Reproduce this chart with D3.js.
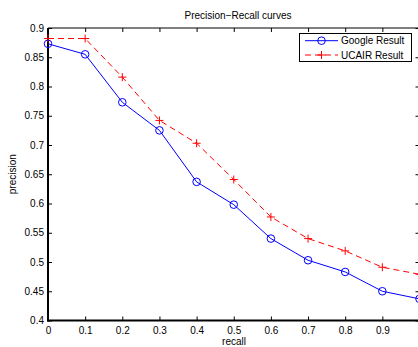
<!DOCTYPE html>
<html>
<head>
<meta charset="utf-8">
<script src="https://cdn.jsdelivr.net/npm/d3@7"></script>
<style>
html,body{margin:0;padding:0;background:#fff;overflow:hidden;}
svg{display:block;}
text{font-family:"Liberation Sans",Arial,Helvetica,sans-serif;}
</style>
</head>
<body>
<script>
const recall = [0,0.1,0.2,0.3,0.4,0.5,0.6,0.7,0.8,0.9,1.0];
const google = [0.873,0.855,0.773,0.725,0.637,0.598,0.540,0.503,0.483,0.450,0.437];
const ucair  = [0.882,0.882,0.816,0.742,0.703,0.641,0.577,0.540,0.519,0.491,0.479];
const xTicks = [0,0.1,0.2,0.3,0.4,0.5,0.6,0.7,0.8,0.9,1];
const yTicks = [0.4,0.45,0.5,0.55,0.6,0.65,0.7,0.75,0.8,0.85,0.9];
const seriesNames = ["Google Result","UCAIR Result"];
const title = "Precision\u2212Recall curves";
const xLabel = "recall";
const yLabel = "precision";

const W = 440, H = 347;
const pL = 48, pR = 419.5, pT = 28, pB = 320.5;
const svg = d3.select("body").append("svg").attr("width", W).attr("height", H);

const x = d3.scaleLinear().domain([0,1]).range([pL,pR]);
const y = d3.scaleLinear().domain([0.4,0.9]).range([pB,pT]);

const gx = svg.append("g").attr("transform",`translate(0,${pB})`)
  .call(d3.axisBottom(x).tickValues(xTicks).tickSizeInner(-4).tickSizeOuter(0).tickPadding(6).tickFormat(d=>String(d)));
const gxt = svg.append("g").attr("transform",`translate(0,${pT})`)
  .call(d3.axisTop(x).tickValues(xTicks).tickSizeInner(-4).tickSizeOuter(0).tickFormat(""));
const gy = svg.append("g").attr("transform",`translate(${pL},0)`)
  .call(d3.axisLeft(y).tickValues(yTicks).tickSizeInner(-4).tickSizeOuter(0).tickPadding(4).tickFormat(d=>String(+d.toFixed(2))));
const gyr = svg.append("g").attr("transform",`translate(${pR},0)`)
  .call(d3.axisRight(y).tickValues(yTicks).tickSizeInner(-4).tickSizeOuter(0).tickFormat(""));
[gx,gxt,gy,gyr].forEach(g=>{
  g.select(".domain").remove();
  g.selectAll(".tick line").attr("stroke","#000").attr("stroke-width",1);
  g.selectAll("text").attr("font-size",10).attr("fill","#000").attr("font-family","Liberation Sans, Arial, sans-serif");
});
svg.append("line").attr("x1",pL).attr("x2",pR).attr("y1",pT).attr("y2",pT).attr("stroke","#000").attr("stroke-width",1);
svg.append("line").attr("x1",pR).attr("x2",pR).attr("y1",pT).attr("y2",pB).attr("stroke","#000").attr("stroke-width",1);
svg.append("line").attr("x1",pL).attr("x2",pL).attr("y1",pT).attr("y2",pB+1).attr("stroke","#000").attr("stroke-width",2);
svg.append("line").attr("x1",pL-1).attr("x2",pR).attr("y1",pB).attr("y2",pB).attr("stroke","#000").attr("stroke-width",2);

const gData = recall.map((r,i)=>({x:r,y:google[i]}));
const uData = recall.map((r,i)=>({x:r,y:ucair[i]}));
const line = d3.line().x(d=>x(d.x)).y(d=>y(d.y));
svg.append("path").datum(uData).attr("d",line).attr("fill","none").attr("stroke","#ff0000").attr("stroke-width",1).attr("stroke-dasharray","6,4");
svg.append("path").datum(gData).attr("d",line).attr("fill","none").attr("stroke","#0000ff").attr("stroke-width",1);
svg.selectAll(".gm").data(gData).enter().append("circle").attr("cx",d=>x(d.x)).attr("cy",d=>y(d.y)).attr("r",3.8).attr("fill","none").attr("stroke","#0000ff").attr("stroke-width",1);
svg.selectAll(".um").data(uData).enter().append("path")
  .attr("d","M-4,0H4M0,-4V4")
  .attr("transform",d=>`translate(${x(d.x)},${y(d.y)})`).attr("stroke","#ff0000").attr("stroke-width",1).attr("fill","none");

svg.append("text").attr("x",238).attr("y",19).attr("text-anchor","middle").attr("font-size",10).text(title);
svg.append("text").attr("x",234).attr("y",345).attr("text-anchor","middle").attr("font-size",10).text(xLabel);
svg.append("text").attr("transform",`translate(16,${(pT+pB)/2}) rotate(-90)`).attr("text-anchor","middle").attr("font-size",10).text(yLabel);

const lg = svg.append("g");
lg.append("rect").attr("x",299.5).attr("y",33.5).attr("width",112).attr("height",28).attr("fill","#fff").attr("stroke","#000").attr("stroke-width",1);
const rows = [40.7,55];
lg.append("line").attr("x1",305).attr("x2",338).attr("y1",rows[0]).attr("y2",rows[0]).attr("stroke","#0000ff");
lg.append("circle").attr("cx",321.5).attr("cy",rows[0]).attr("r",3.8).attr("fill","none").attr("stroke","#0000ff");
lg.append("line").attr("x1",305).attr("x2",338).attr("y1",rows[1]).attr("y2",rows[1]).attr("stroke","#ff0000").attr("stroke-dasharray","6,4");
lg.append("path").attr("d",`M317.5,${rows[1]}H325.5M321.5,${rows[1]-4}V${rows[1]+4}`).attr("stroke","#ff0000");
seriesNames.forEach((n,i)=>{
  lg.append("text").attr("x",341).attr("y",rows[i]+3.6).attr("font-size",10).text(n);
});
</script>
</body>
</html>
